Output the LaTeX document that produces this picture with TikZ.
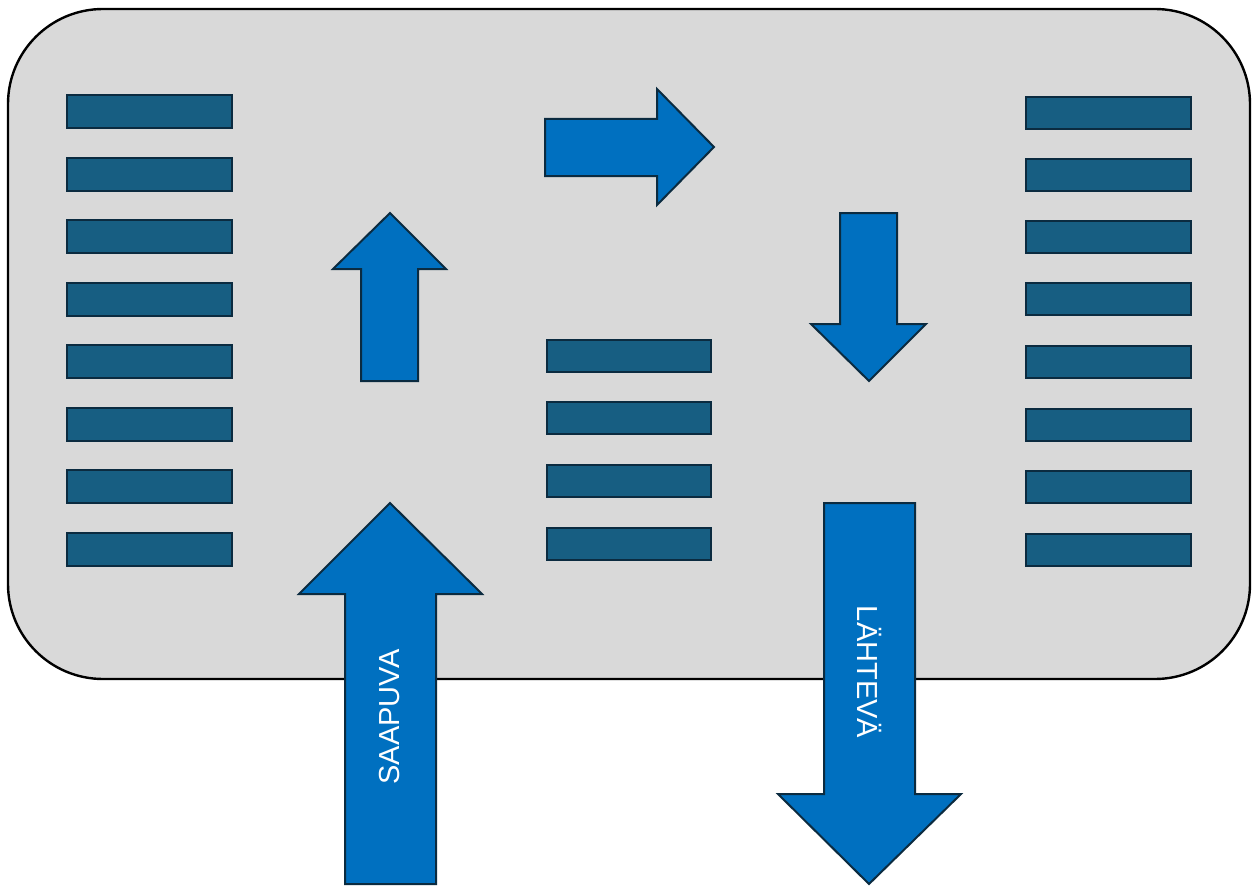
\documentclass[tikz,border=0pt]{standalone}
\usepackage{fontspec}
\setmainfont{Liberation Sans}
\definecolor{bg}{HTML}{D9D9D9}
\definecolor{barfill}{HTML}{175E82}
\definecolor{bardraw}{HTML}{0B2B40}
\definecolor{arrfill}{HTML}{0070C0}
\definecolor{arrdraw}{HTML}{0B2B40}
\begin{document}
\begin{tikzpicture}[x=1pt,y=-1pt,
  bar/.style={fill=barfill,draw=bardraw,line width=2pt},
  arr/.style={fill=arrfill,draw=arrdraw,line width=2pt,line join=miter},
  lbl/.style={text=white,font=\fontsize{29}{32}\selectfont,inner sep=0pt}]
\useasboundingbox (0,0) rectangle (1253,888);
\fill[white] (0,0) rectangle (1253,888);
% main rounded box
\draw[fill=bg,draw=black,line width=2.4pt,rounded corners=95pt] (8,9) rectangle (1250,679);
% left bars
\foreach \y in {95,158,220,283,345,408,470,533}
  \draw[bar] (67,\y) rectangle (232,\y+33);
% right bars
\foreach \y in {97,159,221,283,346,409,471,534}
  \draw[bar] (1026,\y) rectangle (1191,\y+32);
% middle bars
\foreach \y in {340,402,465,528}
  \draw[bar] (547,\y) rectangle (711,\y+32);
% small up arrow
\draw[arr] (361,381) -- (361,269) -- (333,269) -- (390,213) -- (446,269) -- (418,269) -- (418,381) -- cycle;
% right arrow
\draw[arr] (545,119) -- (657,119) -- (657,89) -- (714,147) -- (657,205) -- (657,176) -- (545,176) -- cycle;
% small down arrow
\draw[arr] (840,213) -- (897,213) -- (897,324) -- (926,324) -- (869,381) -- (811,324) -- (840,324) -- cycle;
% big up arrow
\draw[arr] (345,884) -- (345,594) -- (299,594) -- (390,503) -- (482,594) -- (436,594) -- (436,884) -- cycle;
% big down arrow
\draw[arr] (824,503) -- (915,503) -- (915,794) -- (961,794) -- (869,884) -- (778,794) -- (824,794) -- cycle;
% labels
\node[lbl,rotate=90] (saapuva) at (390,717) {SAAPUVA};
\node[lbl,rotate=-90] (lahteva) at (870,672) {LÄHTEVÄ};
\end{tikzpicture}
\end{document}
